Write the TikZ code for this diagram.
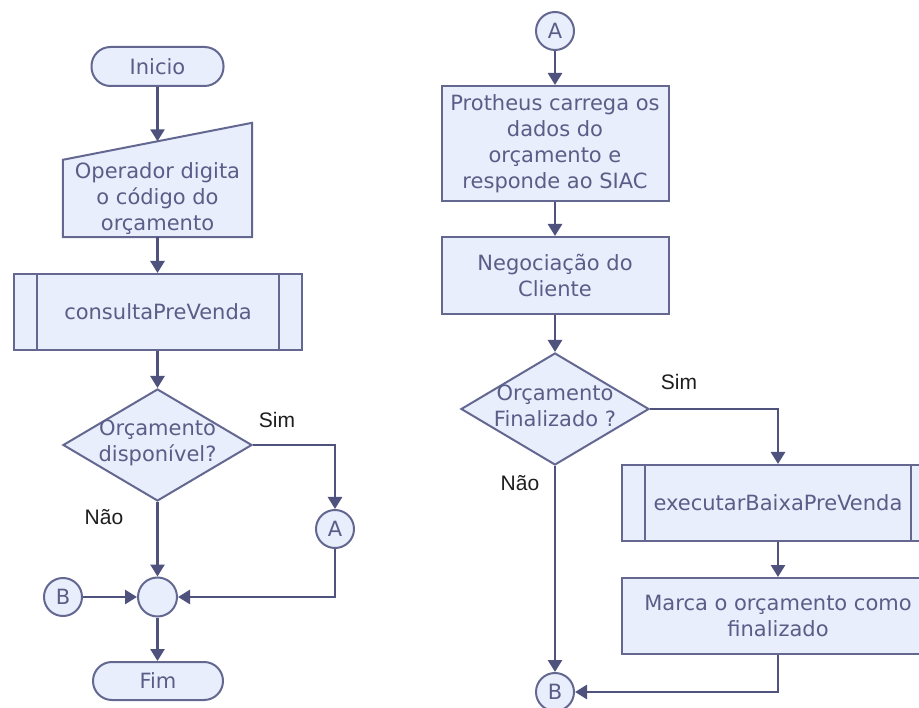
\documentclass[tikz,border=0pt]{standalone}
\usepackage{fontspec}
\setmainfont{DejaVu Sans}
\newfontfamily\labelfont{Liberation Sans}
\usetikzlibrary{shapes.geometric,arrows.meta,backgrounds,calc}
\definecolor{boxfill}{RGB}{232,238,252}
\definecolor{boxline}{RGB}{100,104,145}
\definecolor{boxtext}{RGB}{90,94,135}
\definecolor{linecol}{RGB}{78,82,124}
\definecolor{labelcol}{RGB}{30,30,30}
\begin{document}
\begin{tikzpicture}[x=1pt,y=-1pt,
  txt/.style={text=boxtext, font=\fontsize{21}{26}\selectfont, align=center, inner sep=0pt},
  base/.style={txt, draw=boxline, fill=boxfill, line width=2pt},
  terminal/.style={base, rectangle, rounded corners=19pt, minimum width=132pt, minimum height=39pt},
  procbox/.style={base, rectangle},
  predef/.style={base, rectangle, minimum height=76pt,
    path picture={\draw[boxline, line width=2pt]
      ([xshift=23pt]path picture bounding box.north west) -- ([xshift=23pt]path picture bounding box.south west)
      ([xshift=-23pt]path picture bounding box.north east) -- ([xshift=-23pt]path picture bounding box.south east);}},
  decision/.style={base, diamond, minimum width=189pt, minimum height=112pt},
  connector/.style={base, circle, minimum size=38pt},
  lbl/.style={font=\labelfont\fontsize{21}{25}\selectfont, text=labelcol, inner sep=0pt},
  arr/.style={draw=linecol, line width=2.6pt, -{Triangle[length=12pt,width=14pt]}},
  plainline/.style={draw=linecol, line width=2.6pt}
]
\clip (0,0) rectangle (919,708);
\begin{pgfonlayer}{background}
\fill[white] (0,0) rectangle (919,708);
\end{pgfonlayer}

% ---------- left column ----------
\node[terminal] (ini) at (157.5,66.5) {Inicio};
\node[txt, minimum width=189pt, minimum height=77pt] (op) at (157.5,198.5) {Operador digita\\o código do\\orçamento};
\begin{pgfonlayer}{background}
\path[base] (op.south west) -- (op.north west) -- ([yshift=37pt]op.north east) -- (op.south east) -- cycle;
\end{pgfonlayer}
\coordinate (opin) at ($(op.north west)!0.5!([yshift=37pt]op.north east)$);
\node[predef, minimum width=288pt] (cons) at (158,312) {consultaPreVenda};
\node[decision] (d1) at (157.5,445) {};
\node[txt] at ([yshift=2pt]d1.center) {Orçamento\\disponível?};
\node[connector] (A1) at (335,529) {A};
\node[connector, minimum size=39pt] (m) at (157.5,597) {};
\node[connector] (B1) at (63,597) {B};
\node[terminal, minimum width=130pt, minimum height=38pt] (fim) at (158,681) {Fim};
\node[lbl] (s1) at (277,420) {Sim};
\node[lbl] (n1) at (104,517) {Não};

\draw[arr] (ini.south) -- (opin);
\draw[arr] (op.south) -- (op.south |- cons.north);
\draw[arr] (cons.south -| d1.north) -- (d1.north);
\draw[arr] (d1.east) -| (A1.north);
\draw[arr] (d1.south) -- (m.north);
\draw[arr] (A1.south) |- (m.east);
\draw[arr] (B1.east) -- (m.west);
\draw[arr] (m.south) -- (m.south |- fim.north);

% ---------- right column ----------
\node[connector] (A2) at (555,31) {A};
\node[procbox, minimum width=227pt, minimum height=115pt] (p1) at (555,143.5) {Protheus carrega os\\dados do\\orçamento e\\responde ao SIAC};
\node[procbox, minimum width=227pt, minimum height=77pt] (p2) at (555,275.5) {Negociação do\\Cliente};
\node[decision, minimum width=188pt] (d2) at (555,409) {};
\node[txt] at ([yshift=3pt]d2.center) {Orçamento\\Finalizado ?};
\node[predef, minimum width=312pt] (ex) at (778,503) {executarBaixaPreVenda};
\node[procbox, minimum width=312pt, minimum height=76pt] (mk) at (778,616) {Marca o orçamento como\\finalizado};
\node[connector] (B2) at (555,692) {B};
\node[lbl] (s2) at (679,382) {Sim};
\node[lbl] (n2) at (520,483) {Não};

\draw[arr] (A2.south) -- (p1.north);
\draw[arr] (p1.south) -- (p2.north);
\draw[arr] (p2.south) -- (d2.north);
\draw[arr] (d2.east) -| (ex.north);
\draw[arr] (ex.south) -- (mk.north);
\draw[arr] (mk.south) |- (B2.east);
\draw[arr] (d2.south) -- (B2.north);
\end{tikzpicture}
\end{document}
